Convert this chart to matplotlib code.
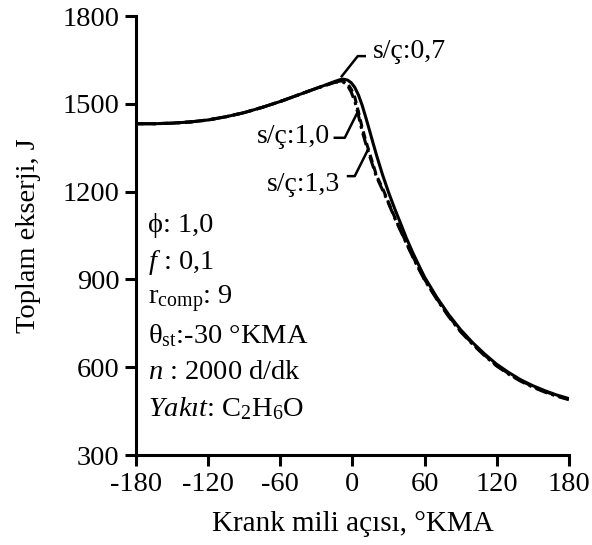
import matplotlib.pyplot as plt
import numpy as np

plt.rcParams['font.family'] = ['Liberation Serif', 'DejaVu Serif']
plt.rcParams['mathtext.fontset'] = 'custom'
plt.rcParams['mathtext.rm'] = 'Liberation Serif'
plt.rcParams['mathtext.it'] = 'Liberation Serif:italic'
plt.rcParams['axes.unicode_minus'] = False

# krank açısı (°KMA)
aci = [-180, -165, -150, -135, -120, -105, -90, -75, -60, -50, -40, -30, -20, -15, -10,
       -7, -4, -1, 2, 5, 8, 11, 14, 17, 20, 25, 30, 35, 40, 45, 50, 55, 60, 70, 80, 90,
       100, 110, 120, 130, 140, 150, 160, 170, 180]

# s/ç = 0,7 (düz çizgi)
ekserji_07 = [1432, 1432, 1434, 1438, 1445, 1456, 1470, 1488, 1508, 1523, 1538, 1553, 1568,
              1576, 1583, 1584, 1581, 1572, 1556, 1530, 1496, 1455, 1412, 1368, 1325, 1258,
              1198, 1143, 1092, 1040, 993, 950, 908, 840, 780, 728, 684, 645, 610, 582, 557,
              537, 520, 505, 493]
# s/ç = 1,0
ekserji_10 = [1432, 1432, 1434, 1438, 1445, 1456, 1470, 1488, 1508, 1523, 1538, 1553, 1567,
              1574, 1578, 1577, 1568, 1550, 1522, 1472, 1420, 1375, 1335, 1295, 1255, 1212,
              1163, 1114, 1068, 1024, 980, 940, 900, 835, 775, 723, 680, 641, 606, 578, 554,
              534, 517, 503, 490]
# s/ç = 1,3
ekserji_13 = [1432, 1432, 1434, 1438, 1445, 1456, 1470, 1488, 1508, 1523, 1538, 1553, 1566,
              1573, 1575, 1573, 1562, 1540, 1508, 1460, 1408, 1365, 1325, 1288, 1250, 1206,
              1160, 1111, 1066, 1022, 978, 937, 898, 833, 773, 721, 678, 639, 604, 576, 552,
              532, 515, 501, 489]

fig = plt.figure(figsize=(5.92, 5.45), dpi=100)
ax = fig.add_axes([0.2297, 0.165, 0.7313, 0.8056])

ax.plot(aci, ekserji_07, color='black', lw=2.2, ls='-')
ax.plot(aci, ekserji_10, color='black', lw=2.2, ls=(0, (2.5, 1.5)))
ax.plot(aci, ekserji_13, color='black', lw=2.2, ls=(0, (4, 1.5, 1, 1.5)))

ax.set_xlim(-180, 180)
ax.set_ylim(300, 1800)
ax.set_xticks(np.arange(-180, 181, 60))
ax.set_yticks(np.arange(300, 1801, 300))
ax.spines['top'].set_visible(False)
ax.spines['right'].set_visible(False)
for s in ['left', 'bottom']:
    ax.spines[s].set_linewidth(2.2)
ax.tick_params(direction='out', length=8, width=2.2, labelsize=20.5, pad=4)

ax.set_xlabel('Krank mili açısı, °KMA', fontsize=21, labelpad=10)
ax.set_ylabel('Toplam ekserji, J', fontsize=20.5, labelpad=15)

# etiketler ve gösterge çizgileri
ax.plot([-8.9, 4.4, 10.2], [1594, 1663, 1663], color='black', lw=1.8)
ax.text(16.9, 1680, 's/ç:0,7', fontsize=20, ha='left', va='center')
ax.plot([-14.7, -6.4, 4.7], [1384, 1384, 1475], color='black', lw=1.8)
ax.text(-18.9, 1390, 's/ç:1,0', fontsize=20, ha='right', va='center')
ax.plot([-3.7, 1.9, 13], [1253, 1253, 1344], color='black', lw=1.8)
ax.text(-10.6, 1226, 's/ç:1,3', fontsize=20, ha='right', va='center')

bilgi = [r'ϕ: 1,0',
         r'$\mathit{f}$ : 0,1',
         r'r$_{\mathrm{comp}}$: 9',
         r'θ$_{\mathrm{st}}$:-30 °KMA',
         r'$\mathit{n}$ : 2000 d/dk',
         r'$\mathit{Yakıt}$: C$_2$H$_6$O']
for i, t in enumerate(bilgi):
    ax.text(-170, 1083 - 125 * i, t, fontsize=20.5, ha='left', va='center')

fig.savefig('out.png', dpi=100)
